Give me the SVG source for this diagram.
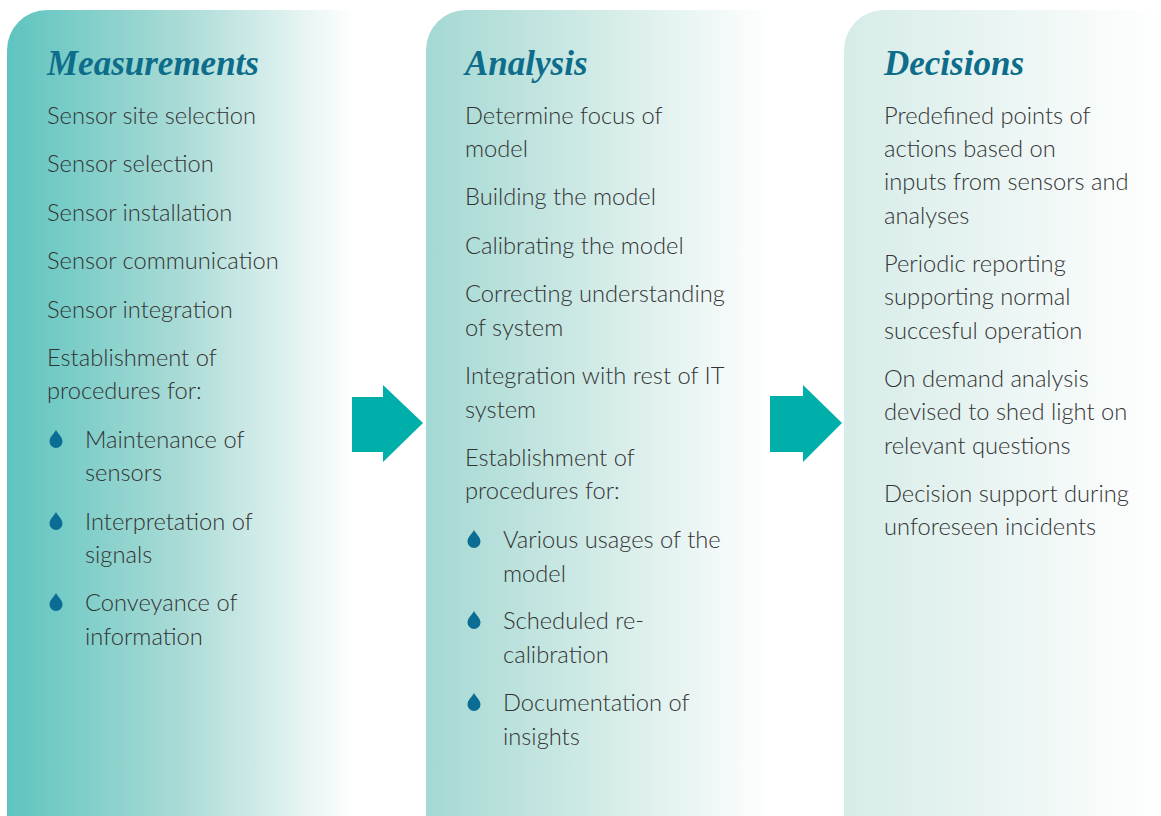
<svg xmlns="http://www.w3.org/2000/svg" width="1161" height="816" viewBox="0 0 1161 816">
<style>
.h{font-family:"Liberation Serif",serif;font-style:italic;font-weight:bold;font-size:35px;fill:#0d6d8a}
.t{font-family:Lato,"Liberation Sans",sans-serif;font-weight:300;font-size:23.7px;fill:#333}
.arrow{fill:#00aeaa}
.drop{fill:#0b6d93}
</style>
<defs>
<linearGradient id="g1" x1="0" y1="0" x2="1" y2="0"><stop offset="0" stop-color="#5ec4bf"/><stop offset="0.5" stop-color="#aadbd6"/><stop offset="1" stop-color="#ffffff"/></linearGradient>
<linearGradient id="g2" x1="0" y1="0" x2="1" y2="0"><stop offset="0" stop-color="#a4d8d2"/><stop offset="0.5" stop-color="#d2ebe7"/><stop offset="1" stop-color="#ffffff"/></linearGradient>
<linearGradient id="g3" x1="0" y1="0" x2="1" y2="0"><stop offset="0" stop-color="#d6ece8"/><stop offset="0.5" stop-color="#eaf5f3"/><stop offset="1" stop-color="#ffffff"/></linearGradient>
<path id="dr" d="M0,0 C2,4 6.5,7 6.5,11.5 A6.5,6.5 0 0 1 -6.5,11.5 C-6.5,7 -2,4 0,0 Z"/>
</defs>
<rect width="1161" height="816" fill="#fff"/>
<g id="measurements">
<path d="M7,816 V50 A40,40 0 0 1 47,10 H355 V816 Z" fill="url(#g1)"/>
<text class="h" x="47" y="75">Measurements</text>
<text class="t" x="47" y="124">Sensor site selection</text>
<text class="t" x="47" y="172">Sensor selection</text>
<text class="t" x="47" y="221">Sensor installation</text>
<text class="t" x="47" y="269">Sensor communication</text>
<text class="t" x="47" y="318">Sensor integration</text>
<text class="t" x="47" y="366">Establishment of</text>
<text class="t" x="47" y="399">procedures for:</text>
<use href="#dr" class="drop" x="56" y="430"/>
<text class="t" x="85" y="448">Maintenance of</text>
<text class="t" x="85" y="481">sensors</text>
<use href="#dr" class="drop" x="56" y="512"/>
<text class="t" x="85" y="530">Interpretation of</text>
<text class="t" x="85" y="563">signals</text>
<use href="#dr" class="drop" x="56" y="593"/>
<text class="t" x="85" y="611">Conveyance of</text>
<text class="t" x="85" y="645">information</text>
</g>
<g id="analysis">
<path d="M426,816 V50 A40,40 0 0 1 466,10 H772 V816 Z" fill="url(#g2)"/>
<text class="h" x="465" y="75">Analysis</text>
<text class="t" x="465" y="124">Determine focus of</text>
<text class="t" x="465" y="157">model</text>
<text class="t" x="465" y="205">Building the model</text>
<text class="t" x="465" y="254">Calibrating the model</text>
<text class="t" x="465" y="302">Correcting understanding</text>
<text class="t" x="465" y="336">of system</text>
<text class="t" x="465" y="384">Integration with rest of IT</text>
<text class="t" x="465" y="418">system</text>
<text class="t" x="465" y="466">Establishment of</text>
<text class="t" x="465" y="499">procedures for:</text>
<use href="#dr" class="drop" x="474" y="530"/>
<text class="t" x="503" y="548">Various usages of the</text>
<text class="t" x="503" y="582">model</text>
<use href="#dr" class="drop" x="474" y="611"/>
<text class="t" x="503" y="629">Scheduled re-</text>
<text class="t" x="503" y="663">calibration</text>
<use href="#dr" class="drop" x="474" y="693"/>
<text class="t" x="503" y="711">Documentation of</text>
<text class="t" x="503" y="745">insights</text>
</g>
<g id="decisions">
<path d="M844,816 V50 A40,40 0 0 1 884,10 H1161 V816 Z" fill="url(#g3)"/>
<text class="h" x="884" y="75">Decisions</text>
<text class="t" x="884" y="124">Predefined points of</text>
<text class="t" x="884" y="157">actions based on</text>
<text class="t" x="884" y="190">inputs from sensors and</text>
<text class="t" x="884" y="224">analyses</text>
<text class="t" x="884" y="272">Periodic reporting</text>
<text class="t" x="884" y="305">supporting normal</text>
<text class="t" x="884" y="339">succesful operation</text>
<text class="t" x="884" y="387">On demand analysis</text>
<text class="t" x="884" y="420">devised to shed light on</text>
<text class="t" x="884" y="454">relevant questions</text>
<text class="t" x="884" y="502">Decision support during</text>
<text class="t" x="884" y="535">unforeseen incidents</text>
</g>
<g id="connectors">
<path class="arrow" d="M352,397 H383 V385 L423,423 L383,462 V452 H352 Z"/>
<path class="arrow" d="M770,396 H803 V385 L842,423 L803,462 V452 H770 Z"/>
</g>
</svg>
